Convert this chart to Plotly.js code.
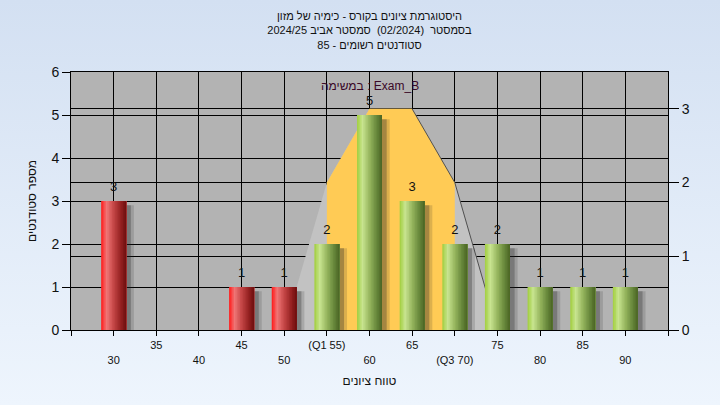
<!DOCTYPE html>
<html><head><meta charset="utf-8">
<script src="https://cdn.plot.ly/plotly-3.0.1.min.js"></script>
<style>
html,body{margin:0;padding:0;width:720px;height:405px;overflow:hidden;background:linear-gradient(to bottom,#d3e0f2,#eef5fd);}
#chart{width:720px;height:405px;}
</style></head><body><div id="chart"></div>
<script>
// ---- data ----
const grades = [30,35,40,45,50,55,60,65,70,75,80,85,90];
const gradeLabels = ['30','35','40','45','50','(Q1 55)','60','65','(Q3 70)','75','80','85','90'];
const studentCounts = [3,0,0,1,1,2,5,3,2,2,1,1,1];
const taskGrades = [50,55,60,65,70,75];
const taskValues = [0,2,3,3,2,0];
const q1Grade = 55;
const q3Grade = 70;
const passGrade = 55;
const titleLines = ['היסטוגרמת ציונים בקורס - כימיה של מזון','בסמסטר  (02/2024)  סמסטר אביב 2024/25','סטודנטים רשומים - 85'];
const xTitle = 'טווח ציונים';
const yTitle = 'מספר סטודנטים';
const taskLabel = 'במשימה : Exam_B';

// ---- styling helpers ----
const step = grades[1]-grades[0];
const W = 2.93; // bar width in axis units
const greenStops = [[0,[160,206,60]],[0.22,[200,228,144]],[0.5,[150,182,94]],[0.78,[104,136,60]],[1,[74,100,36]]];
const redStops = [[0,[255,24,24]],[0.22,[240,118,118]],[0.5,[196,70,70]],[0.78,[150,34,34]],[1,[108,14,14]]];
function grad(stops,t){
  for(let i=0;i<stops.length-1;i++){
    const [a,ca]=stops[i],[b,cb]=stops[i+1];
    if(t>=a&&t<=b){const f=(t-a)/(b-a);
      return 'rgb('+ca.map((c,k)=>Math.round(c+(cb[k]-c)*f)).join(',')+')';}
  }
  return 'rgb('+stops[stops.length-1][1].join(',')+')';
}
const traces = [];

// task area (right axis)
traces.push({type:'scatter',x:taskGrades,y:taskValues,xaxis:'x',yaxis:'y',mode:'lines',fill:'tozeroy',
  fillcolor:'#c2c2c2',line:{width:0,color:'rgba(0,0,0,0)'},hoverinfo:'skip'});
const qIdx = taskGrades.map((g,i)=>i).filter(i=>taskGrades[i]>=q1Grade&&taskGrades[i]<=q3Grade);
traces.push({type:'scatter',x:qIdx.map(i=>taskGrades[i]),y:qIdx.map(i=>taskValues[i]),xaxis:'x',yaxis:'y',mode:'lines',fill:'tozeroy',
  fillcolor:'#ffcb55',line:{width:0,color:'rgba(0,0,0,0)'},hoverinfo:'skip'});
const maxV = Math.max(...taskValues);
const lastMax = taskValues.lastIndexOf(maxV);
traces.push({type:'scatter',x:taskGrades.slice(lastMax),y:taskValues.slice(lastMax),xaxis:'x',yaxis:'y',mode:'lines',
  line:{width:1,color:'#505050'},hoverinfo:'skip'});

// shadows
[[0.55,'rgba(40,40,40,0.30)'],[0.9,'rgba(40,40,40,0.16)']].forEach(([dx,col])=>{
  traces.push({type:'bar',x:grades,y:studentCounts.map(v=>Math.max(v-0.1,0)),xaxis:'x',yaxis:'y2',
    offset:-W/2+dx,width:W,marker:{color:col,line:{width:0}},hoverinfo:'skip'});
});
// cylinder strips
const N = 16;
for(let i=0;i<N;i++){
  const t=(i+0.5)/N;
  traces.push({type:'bar',x:grades,y:studentCounts,xaxis:'x',yaxis:'y2',
    offset:-W/2+i*W/N,width:W-i*W/N,
    marker:{color:grades.map(g=>g<passGrade?grad(redStops,t):grad(greenStops,t)),line:{width:0}},hoverinfo:'skip'});
}
// value labels
traces.push({type:'scatter',x:grades,y:studentCounts,xaxis:'x',yaxis:'y2',mode:'markers+text',
  marker:{size:9,color:'rgba(0,0,0,0)'},
  text:studentCounts.map(v=>v>0?String(v):''),textposition:'top center',
  textfont:{size:13,color:'#111'},cliponaxis:false,hoverinfo:'skip'});

const tickvals=[grades[0]-step,...grades,grades[grades.length-1]+step];
const ticktext=['',...gradeLabels.map((l,i)=>i%2===0?' <br>'+l:l),''];

const layout = {
  width:720,height:405,
  paper_bgcolor:'rgba(0,0,0,0)',plot_bgcolor:'#b3b3b3',
  margin:{l:71,r:52,t:72,b:75,pad:0},
  showlegend:false,barmode:'overlay',
  font:{family:'"Liberation Sans", Arial, sans-serif',color:'#000'},
  title:{text:titleLines.join('<br>'),font:{size:11,color:'#111'},x:0.5,xanchor:'center',xref:'paper',
    y:1-20/405,yanchor:'top',yref:'container'},
  xaxis:{range:[grades[0]-step,grades[grades.length-1]+step],tickmode:'array',tickvals:tickvals,ticktext:ticktext,
    tickfont:{size:11,color:'#111'},ticks:'outside',ticklen:5,tickcolor:'#000',
    showgrid:true,gridcolor:'#000',gridwidth:1,showline:true,linecolor:'#000',linewidth:1,mirror:true,zeroline:false,
    automargin:false,title:{text:xTitle,font:{size:12,color:'#111'},standoff:12}},
  yaxis:{range:[0,3.5],side:'right',tickmode:'array',tickvals:[0,1,2,3],ticks:'outside',ticklen:10,tickcolor:'#000',
    showgrid:true,gridcolor:'#000',gridwidth:1,showline:true,linecolor:'#000',zeroline:false,automargin:false,
    tickfont:{size:14,color:'#111'}},
  yaxis2:{range:[0,6],overlaying:'y',side:'left',dtick:1,ticks:'outside',ticklen:8,tickcolor:'#000',
    showgrid:true,gridcolor:'#000',gridwidth:1,showline:true,linecolor:'#000',zeroline:false,automargin:false,
    tickfont:{size:14,color:'#111'},title:{text:yTitle,font:{size:12,color:'#111'},standoff:12}},
  annotations:[{text:taskLabel,xref:'paper',yref:'paper',x:0.5,y:0.946,xanchor:'center',yanchor:'middle',
    showarrow:false,font:{size:12,color:'#3a0828'}}]
};
Plotly.newPlot('chart',traces,layout,{staticPlot:true,displayModeBar:false});
</script></body></html>
